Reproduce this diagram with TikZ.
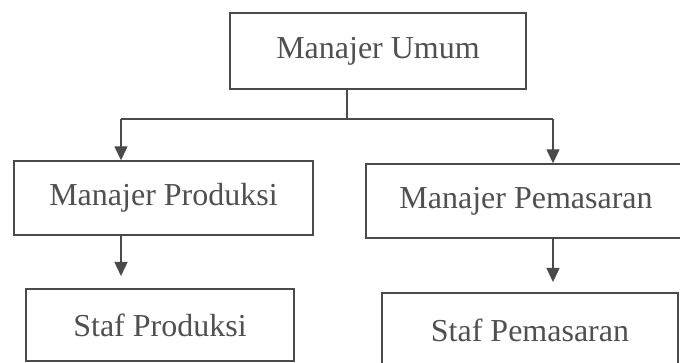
\documentclass[tikz,border=0pt]{standalone}
\usepackage{fontspec}
\setmainfont{Liberation Serif}
\usetikzlibrary{positioning, arrows.meta}

\definecolor{inkgray}{HTML}{4A4A4A}
\definecolor{textgray}{HTML}{505050}

\begin{document}
\begin{tikzpicture}[x=1pt, y=-1pt, >={Triangle[length=14pt, width=13pt]},
            box/.style={draw=inkgray, line width=1.4pt, rectangle, inner sep=0pt,
                text=textgray, font=\fontsize{32}{36}\selectfont},
            link/.style={draw=inkgray, line width=1.4pt}]
            \clip (0,0) rectangle (680,363);
            \fill[white] (0,0) rectangle (680,363);

            % boxes
            \node[box, minimum width=296, minimum height=76] (umum) at (378,51) {Manajer Umum};
            \node[box, minimum width=299, minimum height=74] (mprod) at (163.5,198) {Manajer Produksi};
            \node[box, minimum width=320, minimum height=74] (mpem) at (526,201) {Manajer Pemasaran};
            \node[box, minimum width=268, minimum height=72] (sprod) at (160,325) {Staf Produksi};
            \node[box, minimum width=296, minimum height=74] (spem) at (530,330) {Staf Pemasaran};

            % bus under the top box
            \coordinate (bus) at (347,119);
            \coordinate (busL) at (121,119);
            \coordinate (busR) at (553,119);
            \draw[link] (bus |- umum.south) -- (bus);
            \draw[link] (busL) -- (busR);

            % arrows down to the managers
            \draw[link, ->] (busL) -- (busL |- mprod.north);
            \draw[link, ->] (busR) -- (busR |- mpem.north);

            % arrows down to the staff
            \coordinate (tipL) at (121,276);
            \coordinate (tipR) at (553,282);
            \draw[link, ->] (tipL |- mprod.south) -- (tipL);
            \draw[link, ->] (tipR |- mpem.south) -- (tipR);
        \end{tikzpicture}
\end{document}
